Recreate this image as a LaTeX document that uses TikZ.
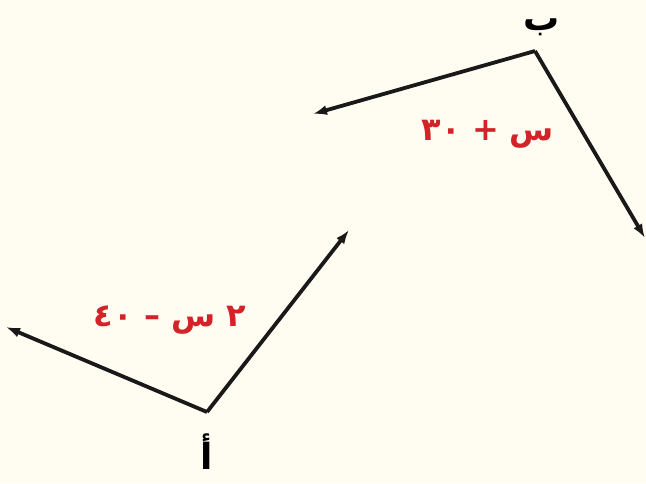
\documentclass[tikz,border=0pt]{standalone}
\usepackage{fontspec}
\newfontfamily\arabicfont[Script=Arabic]{DejaVu Sans}
\TeXXeTstate=1
\usetikzlibrary{arrows.meta}
\definecolor{paper}{HTML}{FFFDF2}
\definecolor{anglered}{HTML}{D42229}

\begin{document}
\begin{tikzpicture}[x=1pt, y=-1pt, >={Latex[length=14pt,width=10pt]},
  ray/.style={->, line width=3.8pt, black!90},
  vlabel/.style={font=\arabicfont\bfseries\fontsize{36}{40}\selectfont, inner sep=0pt},
  mlabel/.style={font=\arabicfont\bfseries\fontsize{32}{36}\selectfont,
                 text=anglered, inner sep=0pt}]

\fill[paper] (0,0) rectangle (646,483);
\useasboundingbox (0,0) rectangle (646,483);

% angle at B
\coordinate (B)  at (535,51);
\coordinate (B1) at (313,114);
\coordinate (B2) at (645,238);
\node[vlabel, anchor=base] (lB) at (542,30) {\beginR ب\endR};
\node[mlabel] (mB) at (488,134) {\beginR س + \beginL ٣٠\endL\endR};

% angle at A
\coordinate (A)  at (207,412);
\coordinate (A1) at (6,327);
\coordinate (A2) at (349,230);
\node[vlabel] (lA) at (207,452) {\beginR أ\endR};
\node[mlabel] (mA) at (170,320) {\beginR ٢ س – \beginL ٤٠\endL\endR};

\draw[ray] (B) -- (B1);
\draw[ray] (B) -- (B2);
\draw[ray] (A) -- (A1);
\draw[ray] (A) -- (A2);
\end{tikzpicture}
\end{document}
